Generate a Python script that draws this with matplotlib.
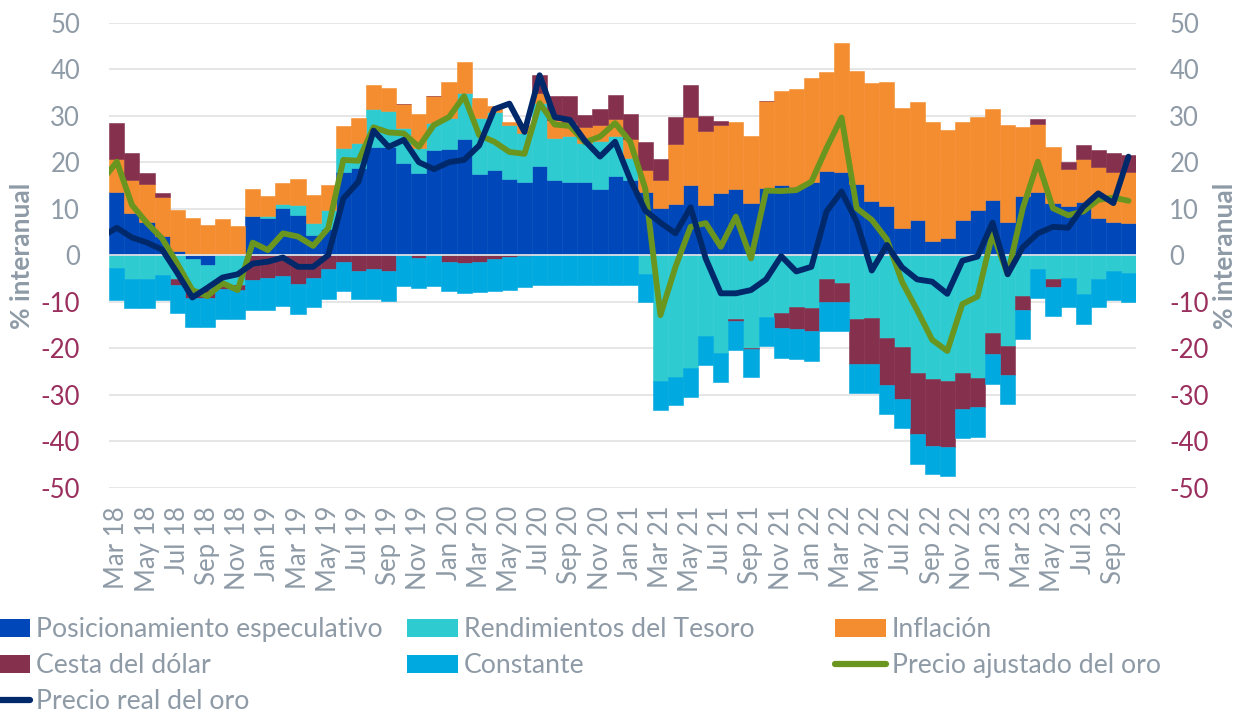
import matplotlib
matplotlib.use("Agg")
import matplotlib.pyplot as plt
import numpy as np
from matplotlib.patches import Patch
from matplotlib.lines import Line2D

plt.rcParams["font.family"] = ["Lato", "DejaVu Sans"]

# ---------------- data (monthly, Mar 18 .. Oct 23) ----------------
tick_labels = ["Mar 18", "May 18", "Jul 18", "Sep 18", "Nov 18",
               "Jan 19", "Mar 19", "May 19", "Jul 19", "Sep 19", "Nov 19",
               "Jan 20", "Mar 20", "May 20", "Jul 20", "Sep 20", "Nov 20",
               "Jan 21", "Mar 21", "May 21", "Jul 21", "Sep 21", "Nov 21",
               "Jan 22", "Mar 22", "May 22", "Jul 22", "Sep 22", "Nov 22",
               "Jan 23", "Mar 23", "May 23", "Jul 23", "Sep 23"]

posicionamiento = [13.6, 9.1, 7.2, 4.1, 0.9, -0.8, -2.1, 0.2, 0.3, 8.4,
                   7.9, 10.2, 8.6, 4.4, 5.6, 17.8, 18.8, 23.2, 23.3, 19.8,
                   17.6, 22.6, 22.8, 24.9, 17.5, 18.4, 16.4, 15.7, 19.2, 16.1,
                   15.8, 15.7, 14.2, 17.0, 16.2, 13.5, 10.1, 11.0, 15.0, 10.8,
                   13.3, 14.2, 11.3, 14.4, 15.1, 14.7, 15.8, 18.1, 18.0, 15.3,
                   11.7, 10.6, 5.8, 7.6, 3.0, 3.8, 7.6, 9.7, 11.9, 7.2,
                   12.7, 13.5, 11.2, 10.5, 11.5, 8.1, 7.2, 7.0]

rendimientos = [-2.7, -5.2, -5.2, -4.3, -5.2, -6.7, -5.4, -6.7, -6.5, 0.0,
                0.6, 0.9, 2.2, 2.6, 4.1, 5.2, 5.4, 8.2, 7.7, 7.5,
                5.4, 5.8, 6.6, 9.9, 12.0, 12.5, 11.6, 10.6, 13.5, 9.0,
                9.8, 8.4, 10.3, 8.6, 4.8, -4.1, -27.0, -26.1, -24.3, -17.4,
                -21.0, -13.8, -19.9, -13.2, -12.4, -11.1, -11.4, -5.2, -5.9, -13.7,
                -13.4, -17.7, -19.7, -25.3, -26.7, -27.1, -25.4, -26.5, -16.8, -19.5,
                -8.8, -3.0, -5.1, -4.8, -8.4, -5.2, -3.5, -3.8]

inflacion = [7.0, 7.0, 8.1, 8.4, 8.8, 7.9, 6.5, 7.5, 6.0, 5.8,
             4.3, 4.5, 5.5, 5.9, 5.4, 4.8, 5.3, 5.2, 4.9, 5.2,
             7.4, 5.8, 7.9, 6.8, 4.4, 1.2, 0.7, 1.7, 2.1, 4.0,
             2.8, 3.5, 3.5, 3.6, 3.9, 4.8, 6.1, 12.9, 14.8, 15.9,
             14.7, 14.4, 14.4, 18.7, 20.3, 21.0, 22.4, 21.2, 27.7, 24.3,
             25.4, 26.7, 25.8, 25.4, 25.7, 23.1, 21.1, 20.1, 19.5, 20.8,
             14.8, 14.7, 12.0, 8.0, 9.2, 10.8, 10.8, 11.0]

cesta_dolar = [7.9, 5.8, 2.3, 0.9, -1.3, -1.6, -1.6, -0.5, -0.9, -5.4,
               -5.0, -4.5, -6.2, -4.8, -3.0, -1.4, -3.3, -3.0, -3.5, 0.0,
               -0.6, 0.0, -1.4, -1.6, -1.4, -0.9, -0.3, -0.2, 3.9, 5.1,
               5.9, 2.5, 3.4, 5.2, 5.5, 6.1, 4.4, 5.9, 6.7, 3.3,
               0.9, -0.3, -0.3, 0.0, -3.3, -4.8, -5.0, -4.9, -4.2, -9.8,
               -10.1, -10.2, -11.2, -13.2, -14.3, -14.1, -7.7, -6.2, -4.5, -6.3,
               -3.0, 1.0, -1.8, 1.5, 3.0, 3.7, 3.9, 3.5]

constante = [-7.0, -6.1, -6.1, -5.4, -6.0, -6.3, -6.3, -6.6, -6.4, -6.3,
             -6.8, -6.5, -6.4, -6.3, -6.4, -6.3, -6.2, -6.5, -6.3, -6.6,
             -6.5, -6.6, -6.4, -6.5, -6.6, -6.7, -7.2, -6.7, -6.4, -6.4,
             -6.4, -6.4, -6.4, -6.4, -6.4, -6.0, -6.3, -6.1, -6.3, -6.2,
             -6.2, -6.3, -6.1, -6.3, -6.3, -6.4, -6.3, -6.2, -6.2, -6.1,
             -6.1, -6.3, -6.3, -6.3, -6.1, -6.3, -6.3, -6.3, -6.3, -6.3,
             -6.2, -6.1, -6.2, -6.3, -6.3, -5.9, -6.1, -6.2]

# line series start one month earlier (Feb 18); first segment is clipped by the axes
precio_ajustado = [16.0, 20.1, 10.8, 6.9, 3.6, -1.8, -7.5, -8.8, -6.0, -7.5,
                   2.7, 1.1, 4.7, 4.0, 2.0, 5.8, 20.5, 20.3, 27.5, 26.4,
                   26.2, 23.3, 28.0, 29.7, 34.2, 25.8, 24.4, 22.2, 21.8, 32.7,
                   28.1, 27.8, 24.3, 25.5, 28.4, 24.4, 14.3, -12.9, -2.5, 6.1,
                   6.9, 1.8, 8.3, -0.7, 13.9, 13.8, 14.0, 15.8, 23.0, 29.6,
                   10.1, 7.6, 3.4, -5.7, -11.8, -18.2, -20.6, -10.5, -8.9, 4.7,
                   -4.1, 10.1, 20.1, 10.1, 8.6, 9.4, 11.9, 12.4, 11.7]

precio_real = [4.0, 5.9, 3.8, 2.7, 1.2, -3.8, -9.1, -7.0, -4.8, -4.1,
               -1.8, -1.4, -0.5, -2.5, -2.5, 0.0, 12.2, 15.8, 26.8, 23.3,
               24.8, 20.0, 18.5, 20.0, 20.5, 23.6, 31.4, 32.6, 26.5, 38.7,
               29.7, 29.1, 24.6, 21.2, 24.4, 16.3, 9.6, 7.0, 4.7, 10.3,
               -0.7, -8.2, -8.2, -7.5, -5.2, -0.2, -3.5, -2.5, 9.4, 13.7,
               7.2, -3.3, 2.2, -2.6, -5.2, -5.7, -8.3, -1.2, -0.3, 7.0,
               -4.1, 1.7, 4.7, 6.1, 5.9, 10.4, 13.3, 11.2, 21.2]

bar_series = [
    ("Posicionamiento especulativo", posicionamiento, "#0048BA"),
    ("Rendimientos del Tesoro", rendimientos, "#2ECBD1"),
    ("Inflación", inflacion, "#F48D30"),
    ("Cesta del dólar", cesta_dolar, "#85314E"),
    ("Constante", constante, "#00A9E0"),
]
col_ajustado = "#6A961F"
col_real = "#00296B"
gray = "#8E9BA7"
neg_col = "#9A2F5E"

# ---------------- figure ----------------
W, H = 1247, 715
fig = plt.figure(figsize=(W / 100, H / 100), dpi=100)
ax = fig.add_axes([109.3 / W, 1 - 487.7 / H, (1136 - 109.3) / W, (487.7 - 22.7) / H])

n = len(posicionamiento)
x = np.arange(n)
pos_b = np.zeros(n)
neg_b = np.zeros(n)
handles = {}
for name, vals, col in bar_series:
    v = np.array(vals, dtype=float)
    bottom = np.where(v >= 0, pos_b, neg_b)
    ax.bar(x, v, bottom=bottom, width=1.0, color=col, edgecolor=col,
           linewidth=0.4, zorder=2)
    pos_b = pos_b + np.where(v >= 0, v, 0)
    neg_b = neg_b + np.where(v < 0, v, 0)
    handles[name] = Patch(facecolor=col, edgecolor="none")

ax.axhline(0, color="#DCE0E4", lw=1.3, zorder=2.5)

xl = np.arange(-1, n)
ax.plot(xl, precio_ajustado, color=col_ajustado, lw=4.2, zorder=3,
        solid_joinstyle="round", solid_capstyle="round")
ax.plot(xl, precio_real, color=col_real, lw=4.2, zorder=3.1,
        solid_joinstyle="round", solid_capstyle="round")

ax.set_xlim(-0.5, n - 0.5)
ax.set_ylim(-50, 50)
yt = np.arange(-50, 51, 10)
ax.set_yticks(yt)
ax.yaxis.grid(True, color="#E4E4E4", lw=1.3, zorder=0)
ax.set_axisbelow(True)
for s in ax.spines.values():
    s.set_visible(False)

tfs = 18.5
ax.set_xticks(np.arange(0, n, 2)[:len(tick_labels)])
ax.set_xticklabels(tick_labels, rotation=90, fontsize=tfs, color=gray)
ax.tick_params(axis="x", length=0, pad=13)
ax.set_yticklabels([str(t) for t in yt], fontsize=tfs)
ax.tick_params(axis="y", length=0, pad=21)

ax2 = ax.twinx()
ax2.set_ylim(-50, 50)
ax2.set_yticks(yt)
ax2.set_yticklabels([str(t) for t in yt], fontsize=tfs)
ax2.tick_params(axis="y", length=0, pad=24)
for s in ax2.spines.values():
    s.set_visible(False)

for a in (ax, ax2):
    for lab, t in zip(a.get_yticklabels(), yt):
        lab.set_color(neg_col if t < 0 else gray)

fig.text(22 / W, 1 - 256 / H, "% interanual", rotation=90, ha="center",
         va="center", fontsize=19, fontweight="bold", color=gray)
fig.text(1225 / W, 1 - 256 / H, "% interanual", rotation=90, ha="center",
         va="center", fontsize=19, fontweight="bold", color=gray)

# ---------------- legend (three columns) ----------------
h_aj = Line2D([], [], color=col_ajustado, lw=4.5, solid_capstyle="round")
h_re = Line2D([], [], color=col_real, lw=4.5, solid_capstyle="round")
fs = 19.2
px = fs * 100 / 72
common = dict(loc="upper left", frameon=False, fontsize=fs, labelcolor=gray,
              handlelength=51 / px, handleheight=18 / px, handletextpad=6 / px,
              labelspacing=0.42, borderpad=0, borderaxespad=0)
top = 1 - 617 / H
fig.legend([handles["Posicionamiento especulativo"], handles["Cesta del dólar"], h_re],
           ["Posicionamiento especulativo", "Cesta del dólar", "Precio real del oro"],
           bbox_to_anchor=(-21 / W, top), **common)
fig.legend([handles["Rendimientos del Tesoro"], handles["Constante"]],
           ["Rendimientos del Tesoro", "Constante"],
           bbox_to_anchor=(407 / W, top), **common)
fig.legend([handles["Inflación"], h_aj],
           ["Inflación", "Precio ajustado del oro"],
           bbox_to_anchor=(835 / W, top), **common)

fig.savefig("out.png", dpi=100)
